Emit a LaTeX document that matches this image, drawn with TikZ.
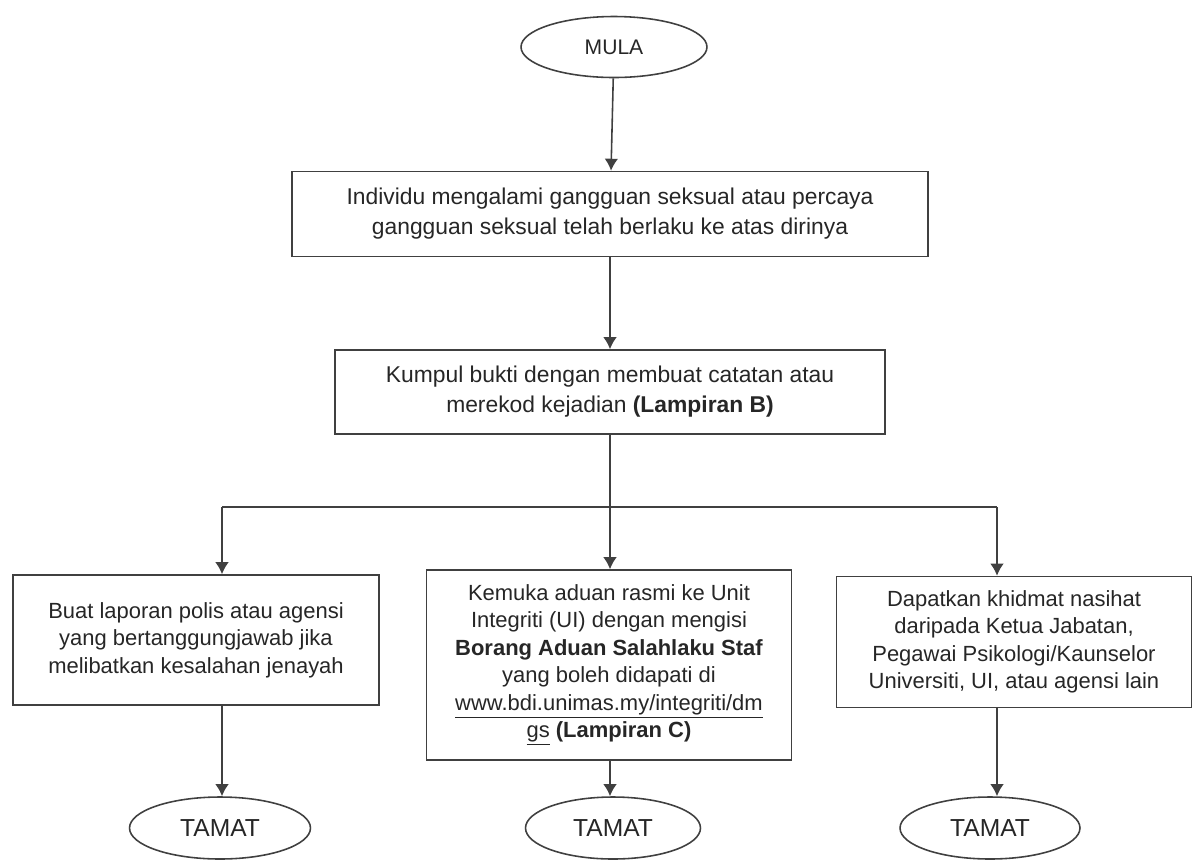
\documentclass[tikz,border=0pt]{standalone}
\usepackage{fontspec}
\setmainfont{Liberation Sans}
\usepackage{tikz}
\usetikzlibrary{arrows.meta, positioning, shapes.geometric}

\begin{document}
\begin{tikzpicture}[x=0.02cm, y=-0.02cm,
			>={Latex[length=0.24cm, width=0.27cm]},
			line/.style={draw=black!75, line width=0.9pt},
			box/.style={rectangle, draw=black!75, line width=0.9pt, align=center, text=black!85, inner sep=0pt, font=\fontsize{12.5}{15.6}\selectfont},
			oval/.style={ellipse, draw=black!75, line width=0.9pt, text=black!85, inner sep=0pt}]

			\useasboundingbox (0,0) rectangle (1198,860);

			% start and the two steps
			\node[oval, minimum width=3.72cm, minimum height=1.22cm, font=\fontsize{12}{14}\selectfont] (mula) at (614,47) {MULA};
			\node[box, minimum width=12.72cm, minimum height=1.7cm, font=\fontsize{13}{17}\selectfont] (individu) at (610,214) {Individu mengalami gangguan seksual atau percaya\\gangguan seksual telah berlaku ke atas dirinya};
			\node[box, minimum width=11cm, minimum height=1.68cm, font=\fontsize{13}{17}\selectfont] (kumpul) at (610,392) {Kumpul bukti dengan membuat catatan atau\\merekod kejadian \textbf{(Lampiran B)}};

			% three choices
			\node[box, minimum width=7.32cm, minimum height=2.6cm] (polis) at (196,640) {Buat laporan polis atau agensi\\yang bertanggungjawab jika\\melibatkan kesalahan jenayah};
			\node[box, minimum width=7.3cm, minimum height=3.8cm] (aduan) at (609,665) {Kemuka aduan rasmi ke Unit\\Integriti (UI) dengan mengisi\\\textbf{Borang Aduan Salahlaku Staf}\\yang boleh didapati di\\\underline{www.bdi.unimas.my/integriti/dm}\\\underline{gs} \textbf{(Lampiran C)}};
			\node[box, minimum width=7.1cm, minimum height=2.62cm] (nasihat) at (1014,642) {Dapatkan khidmat nasihat\\daripada Ketua Jabatan,\\Pegawai Psikologi/Kaunselor\\Universiti, UI, atau agensi lain};

			% ends
			\node[oval, minimum width=3.62cm, minimum height=1.24cm, font=\fontsize{14}{16}\selectfont] (tamatA) at (220,828) {TAMAT};
			\node[oval, minimum width=3.5cm, minimum height=1.24cm, font=\fontsize{14}{16}\selectfont] (tamatB) at (613,828) {TAMAT};
			\node[oval, minimum width=3.6cm, minimum height=1.24cm, font=\fontsize{14}{16}\selectfont] (tamatC) at (990,828) {TAMAT};

			\coordinate (jl) at (222,507);
			\coordinate (jm) at (610,507);
			\coordinate (jr) at (997,507);

			\draw[line, ->] (mula) -- (individu);
			\draw[line, ->] (individu) -- (kumpul);
			\draw[line] (kumpul.south) -- (jm);
			\draw[line] (jl) -- (jr);
			\draw[line, ->] (jl) -- (jl |- polis.north);
			\draw[line, ->] (jm) -- (jm |- aduan.north);
			\draw[line, ->] (jr) -- (jr |- nasihat.north);
			\draw[line, ->] (jl |- polis.south) -- (jl |- tamatA.north);
			\draw[line, ->] (jm |- aduan.south) -- (jm |- tamatB.north);
			\draw[line, ->] (jr |- nasihat.south) -- (jr |- tamatC.north);
		\end{tikzpicture}
\end{document}
